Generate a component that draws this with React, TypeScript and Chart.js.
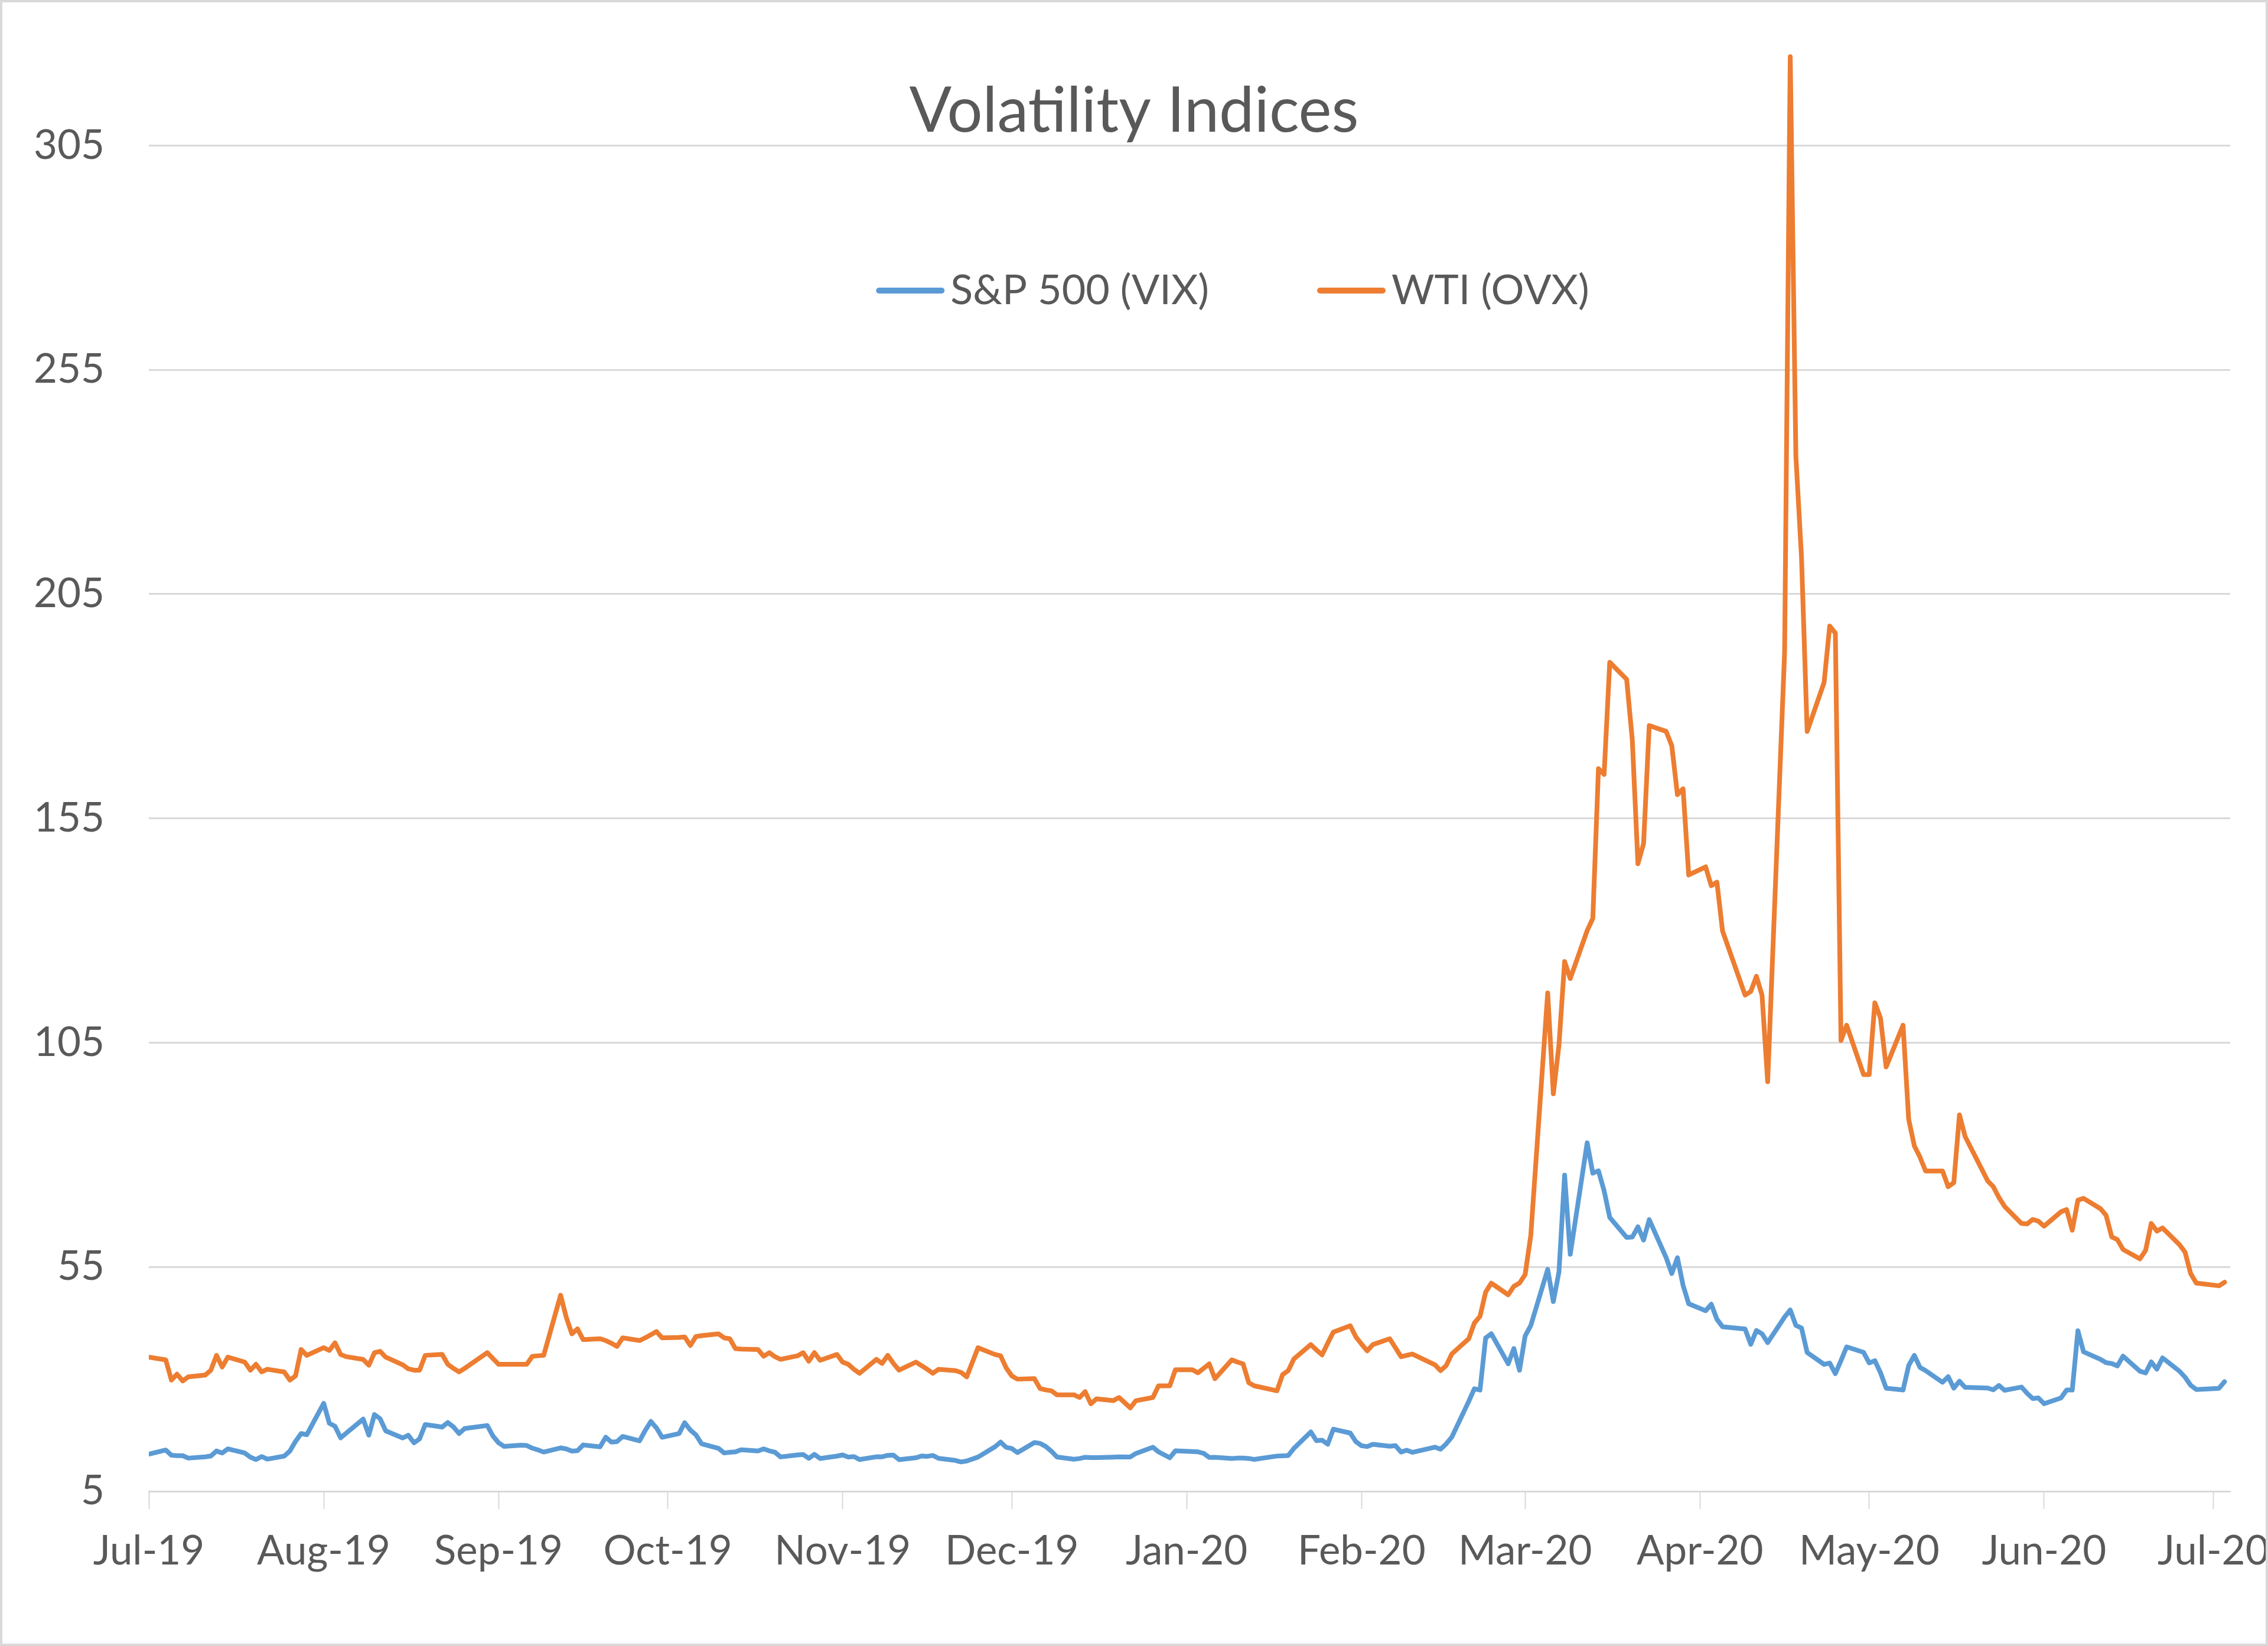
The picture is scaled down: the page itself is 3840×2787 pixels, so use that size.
import React, { useEffect, useRef } from "react";
import { Chart, registerables } from "chart.js";

Chart.register(...registerables);

// ---------------- data ----------------
const chartTitle = "Volatility Indices";
const seriesLabels = ["S&P 500 (VIX)", "WTI (OVX)"];
const seriesColors = ["#5B9BD5", "#ED7D31"];

const axisStartDate = "2019-07-01";
const axisEndDate = "2020-07-04";

const xTickDates = [
  "2019-07-01", "2019-08-01", "2019-09-01", "2019-10-01", "2019-11-01", "2019-12-01", "2020-01-01",
  "2020-02-01", "2020-03-01", "2020-04-01", "2020-05-01", "2020-06-01", "2020-07-01",
];
const xTickLabels = [
  "Jul-19", "Aug-19", "Sep-19", "Oct-19", "Nov-19", "Dec-19", "Jan-20",
  "Feb-20", "Mar-20", "Apr-20", "May-20", "Jun-20", "Jul-20",
];
const yTickValues = [5, 55, 105, 155, 205, 255, 305];
const yMin = 5;
const yMax = 326;

// dates as positioned on the chart's date axis
const dates = [
  "2019-07-01","2019-07-04","2019-07-05","2019-07-06","2019-07-07","2019-07-08","2019-07-11","2019-07-12","2019-07-13","2019-07-14","2019-07-15","2019-07-18","2019-07-19","2019-07-20","2019-07-21","2019-07-22","2019-07-25","2019-07-26","2019-07-27","2019-07-28","2019-07-29",
  "2019-08-01","2019-08-02","2019-08-03","2019-08-04","2019-08-05","2019-08-08","2019-08-09","2019-08-10","2019-08-11","2019-08-12","2019-08-15","2019-08-16","2019-08-17","2019-08-18","2019-08-19","2019-08-22","2019-08-23","2019-08-24","2019-08-25","2019-08-26","2019-08-30","2019-08-31",
  "2019-09-01","2019-09-02","2019-09-05","2019-09-06","2019-09-07","2019-09-08","2019-09-09","2019-09-12","2019-09-13","2019-09-14","2019-09-15","2019-09-16","2019-09-19","2019-09-20","2019-09-21","2019-09-22","2019-09-23","2019-09-26","2019-09-27","2019-09-28","2019-09-29","2019-09-30",
  "2019-10-03","2019-10-04","2019-10-05","2019-10-06","2019-10-07","2019-10-10","2019-10-11","2019-10-12","2019-10-13","2019-10-14","2019-10-17","2019-10-18","2019-10-19","2019-10-20","2019-10-21","2019-10-24","2019-10-25","2019-10-26","2019-10-27","2019-10-28","2019-10-31",
  "2019-11-01","2019-11-02","2019-11-03","2019-11-04","2019-11-07","2019-11-08","2019-11-09","2019-11-10","2019-11-11","2019-11-14","2019-11-15","2019-11-16","2019-11-17","2019-11-18","2019-11-21","2019-11-22","2019-11-23","2019-11-25","2019-11-28","2019-11-29","2019-11-30",
  "2019-12-01","2019-12-02","2019-12-05","2019-12-06","2019-12-07","2019-12-08","2019-12-09","2019-12-12","2019-12-13","2019-12-14","2019-12-15","2019-12-16","2019-12-19","2019-12-20","2019-12-22","2019-12-23","2019-12-26","2019-12-27","2019-12-29","2019-12-30",
  "2020-01-02","2020-01-03","2020-01-04","2020-01-05","2020-01-06","2020-01-09","2020-01-10","2020-01-11","2020-01-12","2020-01-13","2020-01-17","2020-01-18","2020-01-19","2020-01-20","2020-01-23","2020-01-24","2020-01-25","2020-01-26","2020-01-27","2020-01-30","2020-01-31",
  "2020-02-01","2020-02-02","2020-02-03","2020-02-06","2020-02-07","2020-02-08","2020-02-09","2020-02-10","2020-02-14","2020-02-15","2020-02-16","2020-02-17","2020-02-20","2020-02-21","2020-02-22","2020-02-23","2020-02-24","2020-02-27","2020-02-28","2020-02-29",
  "2020-03-01","2020-03-02","2020-03-05","2020-03-06","2020-03-07","2020-03-08","2020-03-09","2020-03-12","2020-03-13","2020-03-14","2020-03-15","2020-03-16","2020-03-19","2020-03-20","2020-03-21","2020-03-22","2020-03-23","2020-03-26","2020-03-27","2020-03-28","2020-03-29","2020-03-30",
  "2020-04-02","2020-04-03","2020-04-04","2020-04-05","2020-04-09","2020-04-10","2020-04-11","2020-04-12","2020-04-13","2020-04-16","2020-04-17","2020-04-18","2020-04-19","2020-04-20","2020-04-23","2020-04-24","2020-04-25","2020-04-26","2020-04-27","2020-04-30",
  "2020-05-01","2020-05-02","2020-05-03","2020-05-04","2020-05-07","2020-05-08","2020-05-09","2020-05-10","2020-05-11","2020-05-14","2020-05-15","2020-05-16","2020-05-17","2020-05-18","2020-05-22","2020-05-23","2020-05-24","2020-05-25","2020-05-28","2020-05-29","2020-05-30","2020-05-31",
  "2020-06-01","2020-06-04","2020-06-05","2020-06-06","2020-06-07","2020-06-08","2020-06-11","2020-06-12","2020-06-13","2020-06-14","2020-06-15","2020-06-18","2020-06-19","2020-06-20","2020-06-21","2020-06-22","2020-06-25","2020-06-26","2020-06-27","2020-06-28",
  "2020-07-02","2020-07-03",
];

const vixValues = [
  // Jul-19
  13.28, 14.19, 13.03, 12.93, 12.93, 12.39, 12.68, 12.86, 13.97, 13.53, 14.45, 13.53, 12.61, 12.07, 12.74, 12.16, 12.83, 13.94, 16.12, 17.87, 17.61,
  // Aug-19
  24.59, 20.17, 19.49, 16.91, 17.97, 21.09, 17.52, 22.10, 21.18, 18.47, 16.88, 17.50, 15.80, 16.68, 19.87, 19.32, 20.31, 19.35, 17.88, 18.98, 19.66, 17.33,
  // Sep-19
  15.82, 15.00, 15.27, 15.20, 14.61, 14.22, 13.74, 14.67, 14.44, 13.95, 14.05, 15.32, 14.91, 17.05, 15.96, 16.07, 17.22, 16.24, 18.56, 20.56, 19.12, 17.04,
  // Oct-19
  17.86, 20.28, 18.64, 17.57, 15.58, 14.57, 13.54, 13.68, 13.79, 14.25, 14.00, 14.46, 14.01, 13.71, 12.65, 13.11, 13.20, 12.33, 13.22, 12.30, 12.83,
  // Nov-19
  13.10, 12.62, 12.73, 12.07, 12.69, 12.68, 13.00, 13.05, 12.05, 12.46, 12.86, 12.78, 12.98, 12.34, 11.87, 11.54, 11.75, 12.62, 14.91, 15.96, 14.80,
  // Dec-19
  14.52, 13.62, 15.86, 15.68, 14.99, 13.94, 12.63, 12.14, 12.29, 12.58, 12.50, 12.51, 12.61, 12.67, 12.65, 13.43, 14.82, 13.78, 12.47, 14.02,
  // Jan-20
  13.85, 13.79, 13.45, 12.54, 12.56, 12.32, 12.39, 12.42, 12.32, 12.10, 12.85, 12.91, 12.98, 14.56, 18.23, 16.28, 16.39, 15.49, 18.84, 17.97, 16.05,
  // Feb-20
  15.15, 14.96, 15.47, 15.04, 15.18, 13.74, 14.15, 13.68, 14.83, 14.38, 15.56, 17.08, 25.03, 27.85, 27.56, 39.16, 40.11, 33.42, 36.82, 31.99,
  // Mar-20
  39.62, 41.94, 54.46, 47.30, 53.90, 75.47, 57.83, 82.69, 75.91, 76.45, 72.00, 66.04, 61.59, 61.67, 63.95, 61.00, 65.54, 57.08, 53.54, 57.06, 50.91, 46.80,
  // Apr-20
  45.24, 46.70, 43.35, 41.67, 41.17, 37.76, 40.84, 40.11, 38.15, 43.83, 45.41, 41.98, 41.38, 35.93, 33.29, 33.57, 31.23, 34.15, 37.19, 35.97,
  // May-20
  33.61, 34.12, 31.44, 27.98, 27.57, 33.04, 35.28, 32.61, 31.89, 29.30, 30.53, 27.99, 29.53, 28.16, 28.01, 27.62, 28.59, 27.51, 28.23, 26.84, 25.66, 25.81,
  // Jun-20
  24.52, 25.81, 27.57, 27.57, 40.79, 36.09, 34.40, 33.67, 33.47, 32.94, 35.12, 31.77, 31.37, 33.84, 32.22, 34.73, 31.78, 30.43, 28.62, 27.68,
  // Jul-20
  27.94, 29.43,
];

const ovxValues = [
  // Jul-19
  34.9, 34.3, 29.8, 31.1, 29.6, 30.5, 30.9, 32.0, 35.3, 32.7, 34.9, 33.8, 32.0, 33.3, 31.6, 32.2, 31.6, 29.8, 30.7, 36.6, 35.3,
  // Aug-19
  37.0, 36.4, 38.1, 35.5, 35.0, 34.4, 33.1, 35.9, 36.2, 34.9, 33.2, 32.3, 32.0, 32.0, 35.3, 35.5, 33.3, 32.4, 31.6, 32.4, 35.9, 34.6,
  // Sep-19
  33.3, 33.3, 33.3, 33.3, 35.1, 35.2, 35.3, 48.7, 43.8, 40.1, 41.2, 38.8, 39.0, 38.6, 38.0, 37.3, 39.2, 38.6, 39.2, 39.9, 40.6, 39.2,
  // Oct-19
  39.3, 39.4, 37.5, 39.5, 39.7, 40.1, 39.2, 39.0, 36.8, 36.7, 36.6, 35.1, 35.9, 35.0, 34.4, 35.2, 35.9, 34.0, 35.9, 34.2, 35.5,
  // Nov-19
  33.8, 33.3, 32.2, 31.3, 34.4, 33.5, 35.3, 33.5, 32.0, 33.8, 33.0, 32.2, 31.3, 32.2, 31.9, 31.5, 30.5, 37.0, 35.5, 35.2, 32.5,
  // Dec-19
  30.7, 30.0, 30.1, 27.9, 27.6, 27.4, 26.5, 26.5, 25.9, 27.2, 24.5, 25.6, 25.2, 25.9, 23.6, 25.2, 25.9, 28.5, 28.5, 32.1,
  // Jan-20
  32.1, 31.4, 32.4, 33.4, 30.1, 34.3, 33.8, 33.4, 29.2, 28.5, 27.4, 31.0, 31.9, 34.5, 37.7, 36.5, 35.4, 38.0, 40.5, 41.9, 39.4,
  // Feb-20
  37.8, 36.3, 37.7, 39.0, 37.0, 35.0, 35.3, 35.6, 33.2, 31.9, 33.0, 35.6, 39.0, 42.5, 44.0, 49.4, 51.4, 48.8, 50.7, 51.4,
  // Mar-20
  53.3, 62.0, 116.1, 93.6, 104.5, 123.1, 119.3, 130.0, 132.7, 166.1, 164.8, 189.8, 186.0, 172.5, 144.9, 149.4, 175.7, 174.4, 171.2, 160.3, 161.6, 142.4,
  // Apr-20
  144.2, 140.0, 140.8, 129.9, 115.6, 116.4, 119.8, 115.6, 96.3, 192.0, 324.8, 235.8, 213.1, 174.4, 185.3, 197.9, 196.3, 105.5, 108.9, 97.9,
  // May-20
  97.9, 113.9, 110.5, 99.6, 108.9, 87.9, 82.0, 79.5, 76.4, 76.4, 72.9, 73.8, 88.9, 84.1, 74.2, 72.9, 70.5, 68.5, 64.7, 64.6, 65.6, 65.2,
  // Jun-20
  64.1, 67.3, 67.8, 63.2, 69.9, 70.3, 68.0, 66.5, 61.7, 61.1, 58.9, 56.8, 58.7, 64.7, 63.0, 63.7, 60.0, 58.3, 53.5, 51.4,
  // Jul-20
  50.8, 51.6,
];

// ---------------- styling ----------------
const FONT = "Lato, 'Open Sans', 'Noto Sans', sans-serif";
const TEXT_COLOR = "#595959";
const GRID_COLOR = "#D9D9D9";
const PAGE_W = 3840;
const PAGE_H = 2787;
const FRAME = 4;
const LINE_WIDTH = 8;

const DAY_MS = 86400000;
const dayIndex = (d: string) =>
  (Date.parse(d + "T00:00:00Z") - Date.parse(axisStartDate + "T00:00:00Z")) / DAY_MS;

const overlayTitleLegend = {
  id: "overlayTitleLegend",
  afterDraw(chart: any) {
    const ctx = chart.ctx;
    ctx.save();
    ctx.fillStyle = TEXT_COLOR;
    ctx.textBaseline = "alphabetic";
    // title
    ctx.font = `400 106px ${FONT}`;
    ctx.textAlign = "center";
    ctx.fillText(chartTitle, chart.width / 2, 219);
    // legend
    ctx.font = `400 70px ${FONT}`;
    ctx.textAlign = "left";
    const swatch = 116;
    const gap = 10;
    const itemGap = 183;
    const items = chart.data.datasets.map((ds: any) => ({ label: ds.label, color: ds.borderColor }));
    const widths = items.map((it: any) => swatch + gap + ctx.measureText(it.label).width);
    const total = widths.reduce((a: number, b: number) => a + b, 0) + itemGap * (items.length - 1);
    let x = 2083 - total / 2;
    items.forEach((it: any, i: number) => {
      ctx.strokeStyle = it.color;
      ctx.lineWidth = 10;
      ctx.lineCap = "round";
      ctx.beginPath();
      ctx.moveTo(x + 5, 488);
      ctx.lineTo(x + swatch - 5, 488);
      ctx.stroke();
      ctx.fillStyle = TEXT_COLOR;
      ctx.fillText(it.label, x + swatch + gap, 511);
      x += widths[i] + itemGap;
    });
    ctx.restore();
  },
};

export default function App() {
  const canvasRef = useRef<HTMLCanvasElement | null>(null);

  useEffect(() => {
    const canvas = canvasRef.current;
    if (!canvas) return;
    const toPoints = (vals: number[]) => dates.map((d, i) => ({ x: dayIndex(d), y: vals[i] }));

    const chart = new Chart(canvas, {
      type: "line",
      data: {
        datasets: [
          {
            label: seriesLabels[0],
            data: toPoints(vixValues),
            borderColor: seriesColors[0],
            backgroundColor: seriesColors[0],
            borderWidth: LINE_WIDTH,
            pointRadius: 0,
            tension: 0,
            fill: false,
            borderJoinStyle: "round",
            borderCapStyle: "round",
            order: 2,
          },
          {
            label: seriesLabels[1],
            data: toPoints(ovxValues),
            borderColor: seriesColors[1],
            backgroundColor: seriesColors[1],
            borderWidth: LINE_WIDTH,
            pointRadius: 0,
            tension: 0,
            fill: false,
            borderJoinStyle: "round",
            borderCapStyle: "round",
            order: 1,
          },
        ],
      },
      options: {
        animation: false,
        responsive: true,
        maintainAspectRatio: false,
        devicePixelRatio: 1,
        layout: { padding: { left: 0, right: 60, top: 83, bottom: 0 } },
        plugins: {
          legend: { display: false },
          title: { display: false },
          tooltip: { enabled: false },
        },
        scales: {
          x: {
            type: "linear",
            min: dayIndex(axisStartDate),
            max: dayIndex(axisEndDate),
            afterBuildTicks: (scale: any) => {
              scale.ticks = xTickDates.map((d) => ({ value: dayIndex(d) }));
            },
            afterFit: (scale: any) => {
              scale.height = 258;
              scale.paddingLeft = 0;
              scale.paddingRight = 0;
            },
            ticks: {
              autoSkip: false,
              maxRotation: 0,
              minRotation: 0,
              padding: 30,
              color: TEXT_COLOR,
              font: { family: FONT, size: 69 },
              callback: (_v: any, i: number) => xTickLabels[i],
            },
            grid: {
              display: true,
              drawOnChartArea: false,
              drawTicks: true,
              tickLength: 30,
              tickWidth: 2,
              tickColor: GRID_COLOR,
              color: GRID_COLOR,
            },
            border: { display: true, color: GRID_COLOR, width: 3 },
          },
          y: {
            type: "linear",
            min: yMin,
            max: yMax,
            afterBuildTicks: (scale: any) => {
              scale.ticks = yTickValues.map((v) => ({ value: v }));
            },
            afterFit: (scale: any) => {
              scale.width = 248;
              scale.paddingTop = 0;
              scale.paddingBottom = 0;
            },
            ticks: {
              padding: 75,
              color: TEXT_COLOR,
              font: { family: FONT, size: 69 },
              callback: (v: any) => String(v),
            },
            grid: { color: GRID_COLOR, lineWidth: 3, drawTicks: false },
            border: { display: false },
          },
        },
      } as any,
      plugins: [overlayTitleLegend],
    });

    return () => chart.destroy();
  }, []);

  return (
    <div
      style={{
        position: "fixed",
        left: 0,
        top: 0,
        width: PAGE_W,
        height: PAGE_H,
        boxSizing: "border-box",
        border: `${FRAME}px solid ${GRID_COLOR}`,
        background: "#FFFFFF",
      }}
    >
      <div style={{ position: "relative", width: PAGE_W - 2 * FRAME, height: PAGE_H - 2 * FRAME }}>
        <canvas ref={canvasRef} />
      </div>
    </div>
  );
}
